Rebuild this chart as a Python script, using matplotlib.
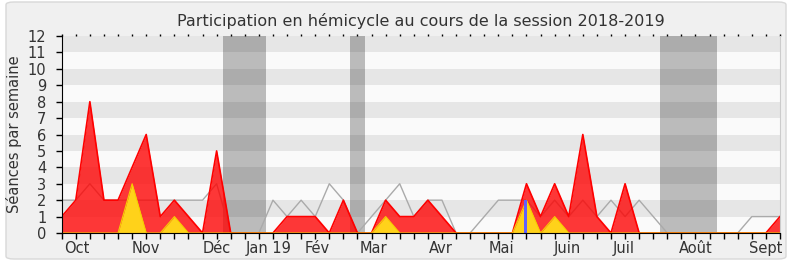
import matplotlib.pyplot as plt
import numpy as np
from matplotlib.patches import FancyBboxPatch

# weekly values, week 0 .. 51
red = [1, 2, 8, 2, 2, 4, 6, 1, 2, 1, 0, 5, 0, 0, 0, 0, 1, 1, 1, 0, 2, 0, 0, 2, 1, 1,
       2, 1, 0, 0, 0, 0, 0, 3, 1, 3, 1, 6, 1, 0, 3, 0, 0, 0, 0, 0, 0, 0, 0, 0, 0, 1]
yellow = [0, 0, 0, 0, 0, 3, 0, 0, 1, 0, 0, 0, 0, 0, 0, 0, 0, 0, 0, 0, 0, 0, 0, 1, 0, 0,
          0, 0, 0, 0, 0, 0, 0, 2, 0, 1, 0, 0, 0, 0, 0, 0, 0, 0, 0, 0, 0, 0, 0, 0, 0, 0]
grey = [2, 2, 3, 2, 2, 2, 2, 2, 2, 2, 2, 3, 0, 0, 0, 2, 1, 2, 1, 3, 2, 0, 1, 2, 3, 1,
        2, 2, 0, 0, 1, 2, 2, 2, 1, 2, 1, 2, 1, 2, 1, 2, 1, 0, 0, 0, 0, 0, 0, 1, 1, 1]
blue_week = [32.93]
blue_value = [2]

vacations = [(11.43, 14.51), (20.48, 21.55), (42.5, 46.55)]

month_pos = [1.1, 6.0, 11.0, 14.7, 18.15, 22.15, 26.95, 31.2, 35.9, 39.9, 45.0, 49.95]
month_labels = ['Oct', 'Nov', 'Déc', 'Jan 19', 'Fév', 'Mar', 'Avr', 'Mai', 'Juin',
                'Juil', 'Août', 'Sept']

weeks = np.arange(len(red))

fig = plt.figure(figsize=(7.9, 2.67), dpi=100, facecolor='white')
fig.patches.append(FancyBboxPatch((6 / 790, 8 / 267), 780 / 790, 257 / 267,
                                  boxstyle='round,pad=0,rounding_size=0.01',
                                  transform=fig.transFigure, facecolor='#f0f0f0',
                                  edgecolor='#d8d8d8', linewidth=1, zorder=-10))
ax = fig.add_axes([61.7 / 790, 1 - 233 / 267, (780 - 61.7) / 790, (233 - 36) / 267])
ax.set_facecolor('#fafafa')

for k in range(1, 12, 2):
    ax.axhspan(k, k + 1, color='#e6e6e6', lw=0, zorder=0)
for a, b in vacations:
    ax.axvspan(a, b, color='black', alpha=0.25, lw=0, zorder=1)

ax.plot(weeks, grey, color='#aaaaaa', lw=1, zorder=2)
ax.fill_between(weeks, red, 0, color='#ff0000', alpha=0.78, lw=0, zorder=3)
ax.plot(weeks, red, color='#ff0000', lw=1.2, zorder=3)
ax.fill_between(weeks, yellow, 0, color='#ffd21a', lw=0, zorder=4)
ax.plot(weeks, yellow, color='#f5d000', lw=0.8, zorder=4)
ax.bar(blue_week, blue_value, width=0.28, color='#6060ff', zorder=5)

ax.set_xlim(0, 51)
ax.set_ylim(0, 12)

ax.set_yticks(range(0, 13))
ax.xaxis.remove_overlapping_locs = False
ax.set_xticks(weeks)
ax.set_xticklabels([])
ax.set_xticks(month_pos, minor=True)
ax.set_xticklabels(month_labels, minor=True)
ax.tick_params(axis='x', which='major', direction='out', length=4, width=1,
               colors='black')
ax.tick_params(axis='x', which='minor', length=0, pad=6, labelsize=10.5,
               labelcolor='#333333')
ax.tick_params(axis='y', direction='out', length=4, width=1, pad=7,
               labelsize=10.5, labelcolor='#333333')

top = ax.secondary_xaxis('top')
top.set_xticks(weeks)
top.set_xticklabels([])
top.tick_params(direction='out', length=1.2, width=1, colors='black')
top.spines['top'].set_visible(False)

ax.spines['top'].set_visible(False)
ax.spines['right'].set_color('#cccccc')
ax.spines['left'].set_color('black')
ax.spines['bottom'].set_color('black')
for s in ax.spines.values():
    s.set_zorder(6)

ax.set_ylabel('Séances par semaine', fontsize=10.5, color='#333333', labelpad=4)
ax.set_title('Participation en hémicycle au cours de la session 2018-2019',
             fontsize=11.5, color='#333333', pad=7)

fig.savefig('out.png', dpi=100, facecolor=fig.get_facecolor())
